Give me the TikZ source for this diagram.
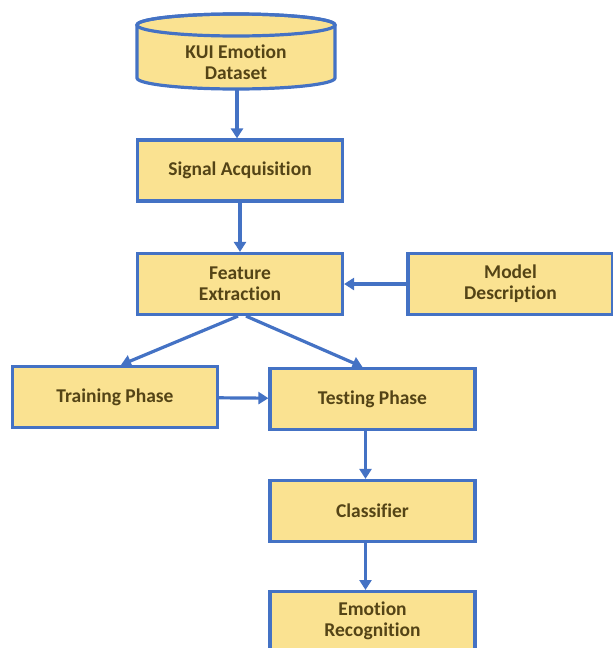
\documentclass[tikz,border=0pt]{standalone}
\usepackage{fontspec}
\setmainfont{Carlito}[Ligatures={NoCommon}]
\usetikzlibrary{arrows.meta,calc}
\definecolor{boxfill}{RGB}{250,226,145}
\definecolor{boxline}{RGB}{68,114,196}
\definecolor{boxtext}{RGB}{84,68,22}
\begin{document}
\begin{tikzpicture}[x=1pt,y=-1pt,
  stepbox/.style={draw=boxline,fill=boxfill,line width=3.2pt,minimum width=205pt,minimum height=61pt,inner sep=0pt,
    text=boxtext,font=\bfseries\fontsize{19.5}{21}\selectfont,align=center},
  conn/.style={draw=boxline,line width=3.2pt,-{Triangle[width=12pt,length=10pt]}}]
\useasboundingbox (0,0) rectangle (613,648);
% cylinder
\filldraw[draw=boxline,fill=boxfill,line width=3.2pt] (137,25) -- (137,78) arc[start angle=180,end angle=360,x radius=99pt,y radius=11pt] -- (335,25) arc[start angle=0,end angle=180,x radius=99pt,y radius=11pt] -- cycle;
\draw[draw=boxline,line width=3.2pt] (236,25) ellipse[x radius=99pt,y radius=11pt];
\node[text=boxtext,font=\bfseries\fontsize{19.5}{21}\selectfont,align=center] (ds) at (236,62) {KUI Emotion\\Dataset};
\coordinate (dsb) at (237,89);
\node[stepbox] (sa) at (240,170.5) {Signal Acquisition};
\node[stepbox] (fe) at (240,284) {Feature\\Extraction};
\node[stepbox] (md) at (510.5,284) {Model\\Description};
\node[stepbox] (tr) at (115,397) {Training Phase};
\node[stepbox] (te) at (372.5,399) {Testing Phase};
\node[stepbox] (cl) at (372.5,511) {Classifier};
\node[stepbox,minimum height=70pt,anchor=north,text depth=0pt] (er) at (372.5,590) {};
\node[text=boxtext,font=\bfseries\fontsize{19.5}{21}\selectfont,align=center,anchor=north] (ert) at (372.5,598) {Emotion\\Recognition};
\draw[conn] (dsb) -- (sa.north -| dsb);
\draw[conn] (sa) -- (fe);
\draw[conn] (md) -- (fe);
\draw[conn] ($(fe.south)+(-2,0)$) -- ($(tr.north)+(6,0)$);
\draw[conn] ($(fe.south)+(6,0)$) -- ($(te.north)+(-10,0)$);
\draw[conn] (tr) -- (te);
\draw[conn] ($(te.south)+(-7,0)$) -- ($(cl.north)+(-7,0)$);
\draw[conn] ($(cl.south)+(-7,0)$) -- ($(er.north)+(-7,0)$);
\end{tikzpicture}
\end{document}
